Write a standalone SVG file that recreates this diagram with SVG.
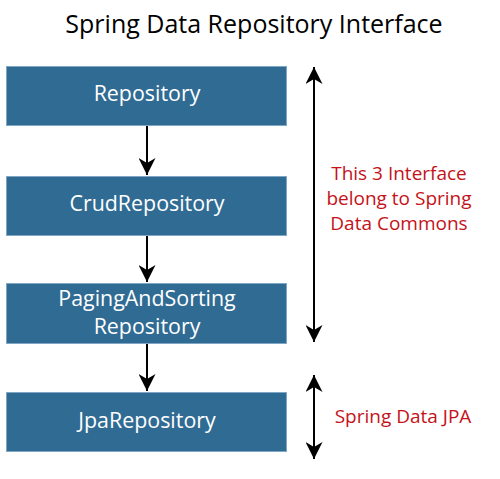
<svg xmlns="http://www.w3.org/2000/svg" width="500" height="479" viewBox="0 0 500 479">
<style>
.box{fill:#306b94;stroke:#7fa6c2;stroke-width:1}
.bt{font-family:"Open Sans","Liberation Sans",sans-serif;font-size:21.4px;fill:#ffffff;text-anchor:middle}
.title{font-family:"Open Sans","Liberation Sans",sans-serif;font-size:25px;fill:#000000;text-anchor:middle}
.red{font-family:"Open Sans","Liberation Sans",sans-serif;font-size:19px;fill:#c4121a;text-anchor:middle}
.ln{stroke:#000000;stroke-width:2;fill:none}
</style>
<defs>
<marker id="ah" viewBox="0 0 18 17" refX="17" refY="8.5" markerWidth="18" markerHeight="17" markerUnits="userSpaceOnUse" orient="auto-start-reverse">
<path d="M0,0 L17,8.5 L0,17 L5,8.5 Z" fill="#000000"/>
</marker>
</defs>
<text class="title" x="254" y="33">Spring Data Repository Interface</text>
<g id="repository">
<rect class="box" x="6.5" y="66.5" width="280" height="59"/>
<text class="bt" x="147" y="101">Repository</text>
</g>
<g id="crudrepository">
<rect class="box" x="6.5" y="176.5" width="280" height="59"/>
<text class="bt" x="147" y="211">CrudRepository</text>
</g>
<g id="pagingandsortingrepository">
<rect class="box" x="6.5" y="283.5" width="280" height="60"/>
<text class="bt" x="147" y="306">PagingAndSorting</text>
<text class="bt" x="147" y="334">Repository</text>
</g>
<g id="jparepository">
<rect class="box" x="6.5" y="392.5" width="280" height="59"/>
<text class="bt" x="147" y="428">JpaRepository</text>
</g>
<g id="connectors">
<line class="ln" x1="147" y1="126" x2="147" y2="175" marker-end="url(#ah)"/>
<line class="ln" x1="147" y1="236" x2="147" y2="282" marker-end="url(#ah)"/>
<line class="ln" x1="147" y1="344" x2="147" y2="391" marker-end="url(#ah)"/>
<line class="ln" x1="314" y1="67" x2="314" y2="342" marker-start="url(#ah)" marker-end="url(#ah)"/>
<line class="ln" x1="314" y1="375" x2="314" y2="459" marker-start="url(#ah)" marker-end="url(#ah)"/>
</g>
<g id="labels">
<text class="red" x="399" y="180">This 3 Interface</text>
<text class="red" x="399" y="205">belong to Spring</text>
<text class="red" x="399" y="230">Data Commons</text>
<text class="red" x="403" y="423">Spring Data JPA</text>
</g>
</svg>
